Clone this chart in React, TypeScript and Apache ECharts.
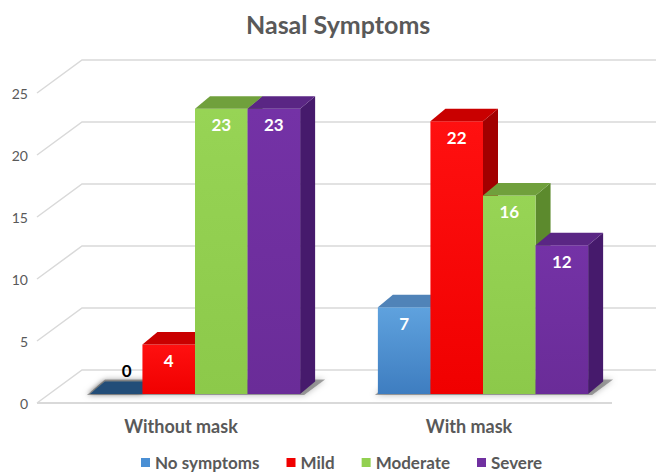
import React, { useEffect, useRef } from "react";
import * as echarts from "echarts";

const categories = ["Without mask", "With mask"];
const seriesNames = ["No symptoms", "Mild", "Moderate", "Severe"];
const noSymptoms = [0, 7];
const mild = [4, 22];
const moderate = [23, 16];
const severe = [23, 12];
const yTicks = [0, 5, 10, 15, 20, 25];

const seriesValues = [noSymptoms, mild, moderate, severe];

const palettes = [
  { front: ["#5fa2de", "#3e7dc0"], top: "#5083b8", side: "#2e5d8e", flat: "#234e78", legend: "#4a8fd4" },
  { front: ["#ff1010", "#f00000"], top: "#c90000", side: "#a20000", flat: "#c00000", legend: "#f00000" },
  { front: ["#97d455", "#8cc94a"], top: "#70a03c", side: "#5c8a2d", flat: "#70a03c", legend: "#92d050" },
  { front: ["#7432a6", "#6a2c98"], top: "#5a2684", side: "#461a6c", flat: "#5a2684", legend: "#7030a0" },
];

const FONT = "Lato, 'Open Sans', sans-serif";
const DX = 15;
const DY = 12.5;
const GROUP_FILL = 0.73;

function makeBarRender(idx: number) {
  return (params: any, api: any) => {
    const cat = api.value(0);
    const val = api.value(1);
    const base = api.coord([cat, 0]);
    const top = api.coord([cat, val]);
    const band = api.size([1, 0])[0];
    const bw = (band * GROUP_FILL) / 4;
    const x0 = base[0] - 2 * bw + idx * bw;
    const y0 = base[1];
    const y1 = top[1];
    const pal = palettes[idx];
    const children: any[] = [];
    if (val > 0) {
      children.push({
        type: "polygon",
        shape: { points: [[x0 + bw, y1], [x0 + bw + DX, y1 - DY], [x0 + bw + DX, y0 - DY], [x0 + bw, y0]] },
        style: { fill: pal.side },
      });
      children.push({
        type: "rect",
        shape: { x: x0, y: y1, width: bw, height: y0 - y1 },
        style: {
          fill: new echarts.graphic.LinearGradient(0, 0, 0, 1, [
            { offset: 0, color: pal.front[0] },
            { offset: 1, color: pal.front[1] },
          ]),
        },
      });
      children.push({
        type: "polygon",
        shape: { points: [[x0, y1], [x0 + bw, y1], [x0 + bw + DX, y1 - DY], [x0 + DX, y1 - DY]] },
        style: { fill: pal.top },
      });
      children.push({
        type: "text",
        style: {
          text: String(val),
          x: x0 + bw / 2,
          y: y1 + 16,
          align: "center",
          verticalAlign: "middle",
          fill: "#ffffff",
          font: `bold 17px ${FONT}`,
        },
      });
    } else {
      children.push({
        type: "polygon",
        shape: { points: [[x0, y0], [x0 + bw, y0], [x0 + bw + DX, y0 - DY], [x0 + DX, y0 - DY]] },
        style: { fill: pal.flat, shadowBlur: 4, shadowColor: "rgba(0,0,0,0.35)", shadowOffsetX: -2 },
      });
      children.push({
        type: "text",
        style: {
          text: String(val),
          x: x0 + bw / 2 + DX * 0.7,
          y: y0 - DY - 11,
          align: "center",
          verticalAlign: "middle",
          fill: "#000000",
          font: `bold 17px ${FONT}`,
        },
      });
    }
    return { type: "group", children };
  };
}

function gridRender(params: any, api: any) {
  const v = api.value(1);
  const p = api.coord([0, v]);
  const L = params.coordSys.x;
  const R = L + params.coordSys.width;
  const yF = p[1] + 9;
  const yB = p[1] - 24;
  const children: any[] = [
    {
      type: "polyline",
      shape: { points: [[L - 14, yF], [L + 31, yB], [R + 30, yB]] },
      style: { stroke: "#d9d9d9", lineWidth: 1.5, fill: "none" },
    },
  ];
  if (v === 0) {
    children.push({
      type: "line",
      shape: { x1: L - 14, y1: yF, x2: R - 15, y2: yF },
      style: { stroke: "#d9d9d9", lineWidth: 2 },
    });
  }
  return { type: "group", children };
}

function shadowRender(params: any, api: any) {
  const cat = api.value(0);
  const base = api.coord([cat, 0]);
  const band = api.size([1, 0])[0];
  const bw = (band * GROUP_FILL) / 4;
  const xL = base[0] - 2 * bw;
  const xR = base[0] + 2 * bw;
  const y0 = base[1];
  return {
    type: "polygon",
    shape: { points: [[xL - 3, y0 + 1], [xR + 4, y0 + 1], [xR + DX + 10, y0 - DY - 2], [xL + DX, y0 - DY - 2]] },
    style: { fill: "rgba(90,90,90,0.55)", shadowBlur: 6, shadowColor: "rgba(0,0,0,0.5)" },
  };
}

export default function App() {
  const ref = useRef<HTMLDivElement>(null);
  useEffect(() => {
    if (!ref.current) return;
    const chart = echarts.init(ref.current, null, { renderer: "svg" });
    const barSeries = seriesNames.map((name, i) => ({
      name,
      type: "custom",
      coordinateSystem: "cartesian2d",
      renderItem: makeBarRender(i),
      itemStyle: { color: palettes[i].legend },
      data: seriesValues[i].map((v, c) => [c, v]),
      z: 10 + i,
    }));
    chart.setOption({
      animation: false,
      backgroundColor: "#ffffff",
      title: {
        text: "Nasal Symptoms",
        left: 241,
        top: 6,
        textStyle: { color: "#595959", fontSize: 25, fontWeight: "bold", fontFamily: FONT },
      },
      legend: {
        data: seriesNames,
        left: 141,
        top: 454,
        padding: 0,
        icon: "rect",
        itemWidth: 9,
        itemHeight: 9,
        itemGap: 27,
        textStyle: { color: "#595959", fontSize: 17, fontWeight: "bold", fontFamily: FONT, lineHeight: 17 },
      },
      grid: { left: 51, right: 29, top: 84, bottom: 80 },
      xAxis: {
        type: "category",
        data: categories,
        axisLine: { show: false },
        axisTick: { show: false },
        splitLine: { show: false },
        axisLabel: {
          color: "#595959",
          fontSize: 18,
          fontWeight: "bold",
          fontFamily: FONT,
          margin: 23,
          padding: [0, 28, 0, 0],
        },
      },
      yAxis: {
        type: "value",
        min: 0,
        max: 25,
        interval: 5,
        axisLine: { show: false },
        axisTick: { show: false },
        splitLine: { show: false },
        axisLabel: {
          color: "#595959",
          fontSize: 14,
          fontFamily: FONT,
          margin: 23,
          verticalAlign: "top",
          lineHeight: 18,
        },
      },
      series: [
        {
          name: "grid",
          type: "custom",
          coordinateSystem: "cartesian2d",
          renderItem: gridRender,
          data: yTicks.map((v) => [0, v]),
          silent: true,
          z: 1,
        },
        {
          name: "shadow",
          type: "custom",
          coordinateSystem: "cartesian2d",
          renderItem: shadowRender,
          data: categories.map((_, c) => [c, 0]),
          silent: true,
          z: 2,
        },
        ...barSeries,
      ],
    });
    return () => chart.dispose();
  }, []);
  return <div ref={ref} style={{ position: "absolute", left: 0, top: 0, width: 656, height: 474 }} />;
}
